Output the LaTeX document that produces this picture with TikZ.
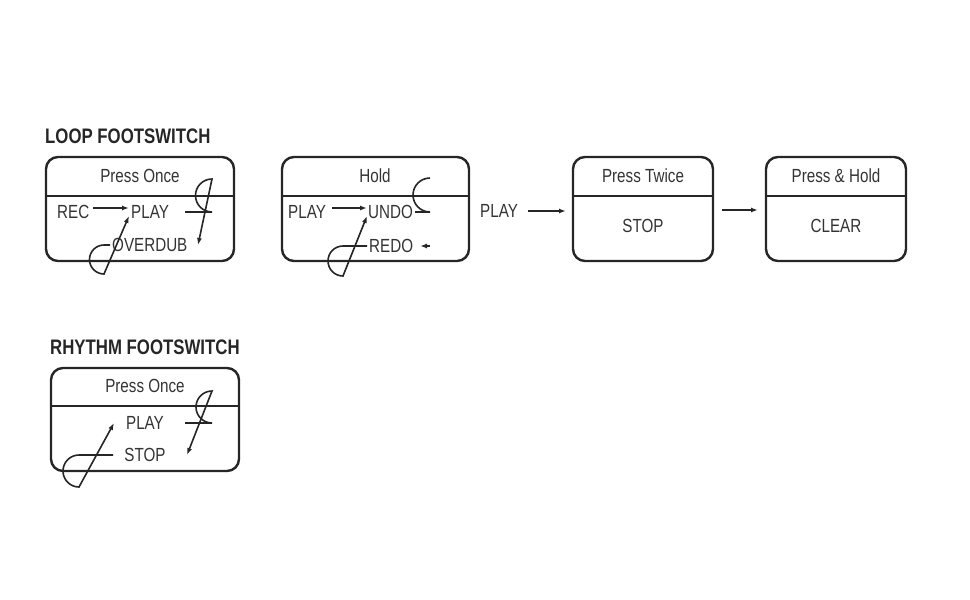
\documentclass[tikz,border=0pt]{standalone}
\usepackage{fontspec}
\setmainfont[FakeStretch=0.8]{Liberation Sans}
\usetikzlibrary{arrows.meta}
\begin{document}
\begin{tikzpicture}[x=1pt,y=-1pt,
  box/.style={draw=black!85,line width=2.4pt,rounded corners=12pt},
  div/.style={draw=black!85,line width=2pt},
  txt/.style={inner sep=0,font=\fontsize{19}{19}\selectfont,text=black!80},
  ttl/.style={inner sep=0,anchor=west,font=\bfseries\fontsize{21}{21}\selectfont,text=black!85},
  ln/.style={draw=black!85,line width=1.6pt},
  arr/.style={ln,-{Latex[length=7pt,width=5pt]}}]
\useasboundingbox (0,0) rectangle (970,600);
\node[ttl] (t1) at (45,136) {LOOP FOOTSWITCH};
\node[ttl] (t2) at (50,347) {RHYTHM FOOTSWITCH};
% box 1
\draw[box] (46,157) rectangle (234,261); \draw[div] (47,196) -- (233,196);
\node[txt] (h1) at (140,176) {Press Once};
\node[txt,anchor=west] (rec) at (57,212) {REC};
\node[txt,anchor=west] (play1) at (131,212) {PLAY};
\node[txt,anchor=west] (od) at (112,245) {OVERDUB};
\draw[arr] (93,208) -- (129,208);
\draw[arr] (110,245) -- (104,245) arc[start angle=270,end angle=90,radius=14.5] -- (129,216);
\draw[arr] (185,212) -- (212,212) arc[start angle=-90,end angle=90,radius=-16.5] -- (198,245);
% box 2
\draw[box] (282,157) rectangle (469,261); \draw[div] (283,196) -- (468,196);
\node[txt] (h2) at (375,176) {Hold};
\node[txt,anchor=west] (play2) at (288,212) {PLAY};
\node[txt,anchor=west] (undo) at (368,212) {UNDO};
\node[txt,anchor=west] (redo) at (369,246) {REDO};
\draw[arr] (332,208) -- (367,208);
\draw[arr] (367,246) -- (343,246) arc[start angle=270,end angle=90,radius=15] -- (367,216);
\draw[ln] (415,212) -- (430,212) arc[start angle=-90,end angle=90,radius=-17];
\draw[arr] (430,246) -- (420,246);
% PLAY arrow
\node[txt,anchor=west] (pl) at (480,211) {PLAY};
\coordinate (a1) at (528,211);
% box 3
\draw[box] (573,157) rectangle (713,261); \draw[div] (574,196) -- (712,196);
\node[txt] (h3) at (643,176) {Press Twice};
\node[txt] (stop) at (643,226) {STOP};
\draw[arr] (a1) -- (566,211);
\coordinate (a2) at (722,210);
\draw[arr] (a2) -- (758,210);
% box 4
\draw[box] (766,157) rectangle (906,261); \draw[div] (767,196) -- (905,196);
\node[txt] (h4) at (836,176) {Press \& Hold};
\node[txt] (clear) at (836,226) {CLEAR};
% rhythm
\draw[box] (51,368) rectangle (239,471); \draw[div] (52,406) -- (238,406);
\node[txt] (h5) at (145,386) {Press Once};
\node[txt] (play3) at (145,423) {PLAY};
\node[txt] (stop3) at (145,455) {STOP};
\draw[arr] (113,455) -- (79,455) arc[start angle=270,end angle=90,radius=16] -- (114,423);
\draw[arr] (185,423) -- (212,423) arc[start angle=-90,end angle=90,radius=-16] -- (187,455);
\end{tikzpicture}
\end{document}
